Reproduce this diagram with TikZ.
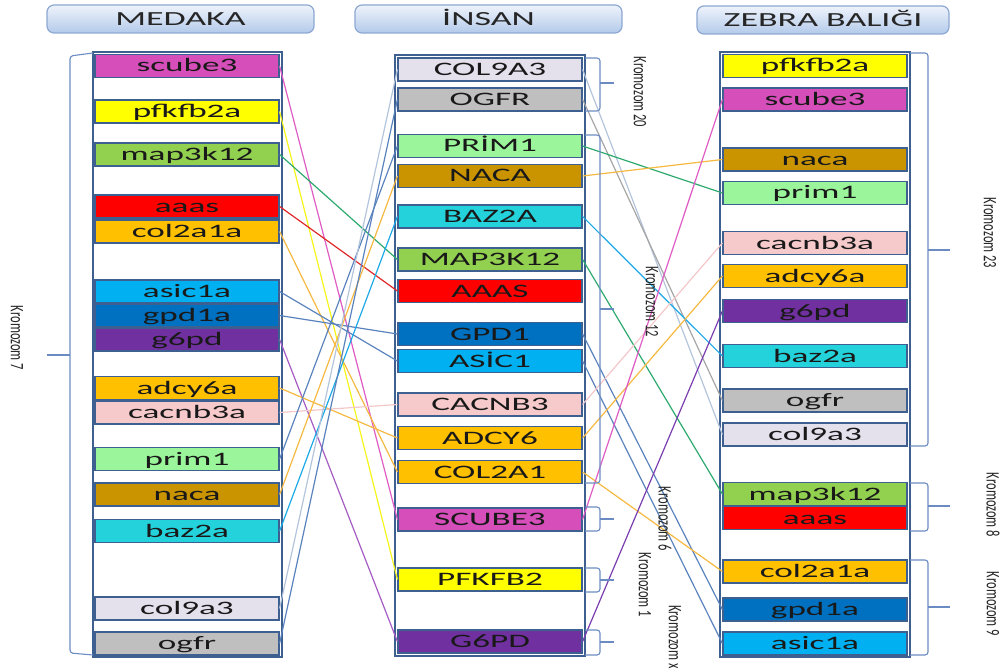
\documentclass[tikz,border=0pt]{standalone}
\usepackage{fontspec}
\setmainfont{Carlito}
\usepackage{graphicx}
\usepackage{xcolor}
\usepackage{tikz}

\definecolor{frm}{HTML}{3E6090}
\definecolor{brkc}{HTML}{6B8CC2}
\definecolor{hdrT}{HTML}{EEF3FB}
\definecolor{hdrB}{HTML}{B3CAEA}
\definecolor{hdrE}{HTML}{8DA8D2}
\definecolor{cMag}{HTML}{D64EBA}
\definecolor{cYel}{HTML}{FFFF00}
\definecolor{cGrn}{HTML}{92D050}
\definecolor{cRed}{HTML}{FF0000}
\definecolor{cOrg}{HTML}{FFC000}
\definecolor{cLbl}{HTML}{00B0F0}
\definecolor{cBlu}{HTML}{0070C0}
\definecolor{cPur}{HTML}{7030A0}
\definecolor{cPnk}{HTML}{F6CACB}
\definecolor{cLgr}{HTML}{9BF59B}
\definecolor{cBrn}{HTML}{C99400}
\definecolor{cCya}{HTML}{24D2DC}
\definecolor{cLav}{HTML}{E4E0EC}
\definecolor{cGry}{HTML}{BFBFBF}
\definecolor{lMag}{HTML}{DE5CC4}
\definecolor{lYel}{HTML}{F5F51A}
\definecolor{lTeal}{HTML}{2EAA6E}
\definecolor{lRed}{HTML}{E02828}
\definecolor{lOrg}{HTML}{F5B942}
\definecolor{lStl}{HTML}{5A83BD}
\definecolor{lSky}{HTML}{B4C4DC}
\definecolor{lPur}{HTML}{A45CC4}
\definecolor{lDpur}{HTML}{7A3DB0}
\definecolor{lPnk}{HTML}{F4C7C8}
\definecolor{lCya}{HTML}{1CA9E6}
\definecolor{lGry}{HTML}{A6A6A6}

\newcommand{\gn}[1]{\scalebox{1.85}[1]{#1}}
\newcommand{\hd}[1]{\scalebox{1.8}[1]{#1}}
\newcommand{\kr}[1]{\scalebox{0.66}[1]{#1}}

\begin{document}
\begin{tikzpicture}[x=1pt,y=-1pt,
	gene/.style={draw=frm,line width=1.2pt,minimum width=184pt,minimum height=23pt,inner sep=0pt,text height=12pt,text depth=0pt,font=\fontsize{19}{19}\selectfont,text=black!90},
	head/.style={draw=hdrE,line width=1.2pt,rounded corners=7pt,top color=hdrT,bottom color=hdrB,minimum height=28pt,inner sep=0pt,text height=13pt,text depth=0pt,font=\fontsize{20}{20}\selectfont,text=black!85},
	colm/.style={draw=frm,line width=2.6pt,fill=white},
	brk/.style={draw=brkc,line width=1.1pt,rounded corners=3pt},
	krm/.style={rotate=-90,inner sep=0pt,font=\fontsize{19}{19}\selectfont,text=black!85},
	ln/.style={line width=1.2pt}]
	\useasboundingbox (0,0) rectangle (1006,671);
	
	\node[head,minimum width=267pt] (hmed) at (180.5,19) {\hd{MEDAKA}};
	\node[head,minimum width=267pt] (hins) at (488.5,19) {\hd{İNSAN}};
	\node[head,minimum width=252pt] (hzeb) at (823,20) {\hd{ZEBRA BALIĞI}};
	
	\draw[colm] (93,52) rectangle (282,657);
	\draw[colm] (395,55) rectangle (585,656);
	\draw[colm] (720,52) rectangle (910,657);
	
	\foreach \nm/\tx/\y/\c in {mscube3/scube3/66/cMag, mpfkfb2a/pfkfb2a/111.5/cYel, mmap3k12/map3k12/154.5/cGrn, maaas/aaas/206.5/cRed, mcol2a1a/col2a1a/231.5/cOrg, masic1a/asic1a/291.5/cLbl, mgpd1a/gpd1a/315.5/cBlu, mg6pd/g6pd/339.5/cPur, madcy6a/adcy6a/388/cOrg, mcacnb3a/cacnb3a/412.5/cPnk, mprim1/prim1/459/cLgr, mnaca/naca/494.5/cBrn, mbaz2a/baz2a/531/cCya, mcol9a3/col9a3/608.5/cLav, mogfr/ogfr/643.5/cGry}
	\node[gene,fill=\c] (\nm) at (187,\y) {\gn{\tx}};
	
	\foreach \nm/\tx/\y/\c in {iCOL9A3/COL9A3/69.5/cLav, iOGFR/OGFR/99.5/cGry, iPRIM1/PRİM1/146/cLgr, iNACA/NACA/176/cBrn, iBAZ2A/BAZ2A/216.5/cCya, iMAP3K12/MAP3K12/259.5/cGrn, iAAAS/AAAS/291/cRed, iGPD1/GPD1/334/cBlu, iASIC1/ASİC1/361/cLbl, iCACNB3/CACNB3/404.5/cPnk, iADCY6/ADCY6/438/cOrg, iCOL2A1/COL2A1/472/cOrg, iSCUBE3/SCUBE3/519.5/cMag, iPFKFB2/PFKFB2/579.5/cYel, iG6PD/G6PD/641.5/cPur}
	\node[gene,fill=\c] (\nm) at (490,\y) {\gn{\tx}};
	
	\foreach \nm/\tx/\y/\c in {zpfkfb2a/pfkfb2a/66/cYel, zscube3/scube3/99.5/cMag, znaca/naca/159.5/cBrn, zprim1/prim1/193/cLgr, zcacnb3a/cacnb3a/243/cPnk, zadcy6a/adcy6a/276/cOrg, zg6pd/g6pd/311/cPur, zbaz2a/baz2a/356/cCya, zogfr/ogfr/400.5/cGry, zcol9a3/col9a3/434.5/cLav, zmap3k12/map3k12/494/cGrn, zaaas/aaas/518/cRed, zcol2a1a/col2a1a/571.5/cOrg, zgpd1a/gpd1a/609.5/cBlu, zasic1a/asic1a/643.5/cLbl}
	\node[gene,fill=\c] (\nm) at (815,\y) {\gn{\tx}};
	
	\foreach \a/\b/\c in {mscube3/iSCUBE3/lMag, mpfkfb2a/iPFKFB2/lYel, mmap3k12/iMAP3K12/lTeal, maaas/iAAAS/lRed, mcol2a1a/iCOL2A1/lOrg, masic1a/iASIC1/lStl, mgpd1a/iGPD1/lStl, mg6pd/iG6PD/lPur, madcy6a/iADCY6/lOrg, mcacnb3a/iCACNB3/lPnk, mprim1/iPRIM1/lStl, mnaca/iNACA/lOrg, mbaz2a/iBAZ2A/lCya, mcol9a3/iCOL9A3/lSky, mogfr/iOGFR/lStl}
	\draw[ln,\c] (\a.east) -- (\b.west);
	
	\foreach \a/\b/\c in {iCOL9A3/zcol9a3/lSky, iOGFR/zogfr/lGry, iPRIM1/zprim1/lTeal, iNACA/znaca/lOrg, iBAZ2A/zbaz2a/lCya, iMAP3K12/zmap3k12/lTeal, iGPD1/zgpd1a/lStl, iASIC1/zasic1a/lStl, iCACNB3/zcacnb3a/lPnk, iADCY6/zadcy6a/lOrg, iCOL2A1/zcol2a1a/lOrg, iSCUBE3/zscube3/lMag, iG6PD/zg6pd/lDpur}
	\draw[ln,\c] (\a.east) -- (\b.west);
	
	\draw[brk] (93,53) -- (70,56) -- (70,653) -- (93,655);
	\draw[brk] (70,355) -- (47,355);
	\node[krm] (k7) at (17,338) {\kr{Kromozom 7}};
	
	\foreach \t/\b/\m in {58/111/83, 135/483/309, 507/531/519, 568/592/580, 630/655/642} {
		\draw[brk] (585,\t) -- (600,\t) -- (600,\b) -- (585,\b);
		\draw[brk] (600,\m) -- (614,\m);
	}
	\node[krm] (k20) at (640,92) {\kr{Kromozom 20}};
	\node[krm] (k12) at (652,302) {\kr{Kromozom 12}};
	\node[krm] (k6) at (665,519) {\kr{Kromozom 6}};
	\node[krm] (k1) at (645,585) {\kr{Kromozom 1}};
	\node[krm] (kx) at (675,637) {\kr{Kromozom x}};
	
	\foreach \t/\b/\m in {53/446/250, 483/531/506, 560/655/607} {
		\draw[brk] (910,\t) -- (928,\t) -- (928,\b) -- (910,\b);
		\draw[brk] (928,\m) -- (950,\m);
	}
	\node[krm] (k23) at (990,233) {\kr{Kromozom 23}};
	\node[krm] (k8) at (993,505) {\kr{Kromozom 8}};
	\node[krm] (k9) at (993,604) {\kr{Kromozom 9}};
	
\end{tikzpicture}
\end{document}
